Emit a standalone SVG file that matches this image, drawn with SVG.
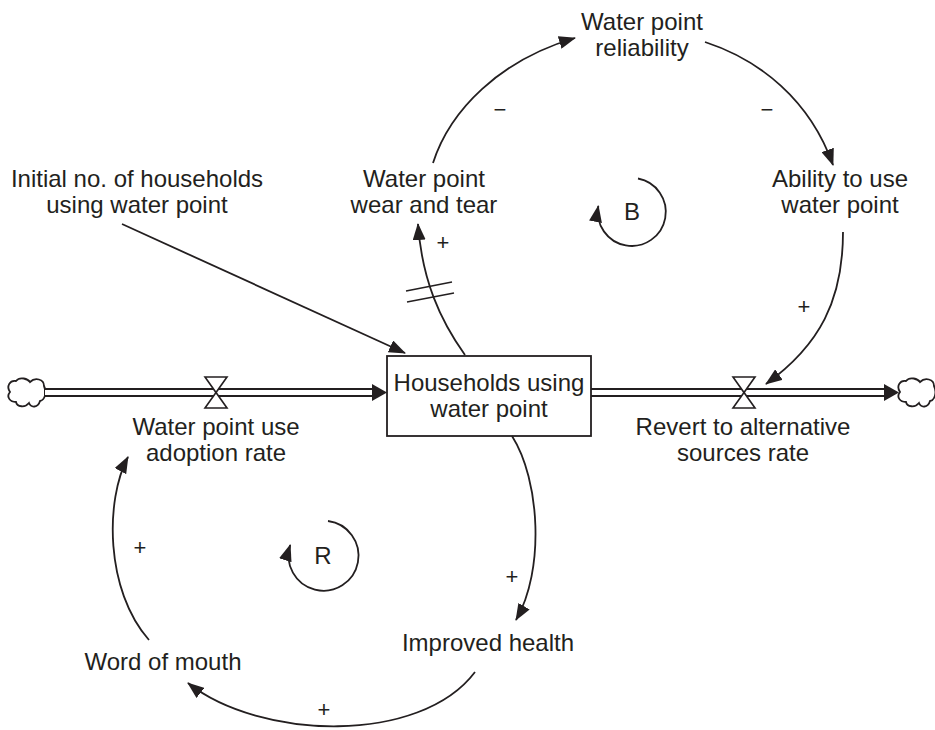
<svg xmlns="http://www.w3.org/2000/svg" width="935" height="730" viewBox="0 0 935 730">
  <style>
    .lbl { font-family: "Liberation Sans", Arial, sans-serif; font-size: 24px; fill: #231f20; text-anchor: middle; }
    .sign { font-family: "Liberation Sans", Arial, sans-serif; font-size: 22px; fill: #231f20; text-anchor: middle; }
    .link { fill: none; stroke: #231f20; stroke-width: 1.8; marker-end: url(#arrow); }
    .loop { fill: none; stroke: #231f20; stroke-width: 1.8; marker-end: url(#arrow); }
    .pipeOuter { stroke: #231f20; stroke-width: 9; fill: none; }
    .pipeInner { stroke: #ffffff; stroke-width: 5; fill: none; }
    .valve { fill: #ffffff; stroke: #231f20; stroke-width: 1.6; stroke-linejoin: miter; }
    .cloud { fill: #ffffff; stroke: #231f20; stroke-width: 1.8; }
    .stock { fill: #ffffff; stroke: #231f20; stroke-width: 1.8; }
    .head { fill: #231f20; }
    .delay { stroke: #231f20; stroke-width: 1.6; fill: none; }
  </style>
  <defs>
    <marker id="arrow" markerUnits="userSpaceOnUse" markerWidth="17" markerHeight="13" viewBox="0 0 17 13" refX="16" refY="6.5" orient="auto">
      <path d="M0,0 L17,6.5 L0,13 Z" fill="#231f20"/>
    </marker>
    <!-- source / sink cloud -->
    <path id="cloud" d="M10,392 C6,386 10,380 16,381 C20,376 28,379 30,382 C35,377 44,379 44,386 C47,392 45,400 40,401 C38,408 31,408 29,403 C25,408 17,407 16,402 C10,402 6,397 10,392 Z"/>
  </defs>

  <rect width="935" height="730" fill="#ffffff"/>

  <!-- flows: pipes, clouds and valves -->
  <g id="flow-adoption">
    <use href="#cloud" class="cloud"/>
    <line class="pipeOuter" x1="44" y1="392.5" x2="374" y2="392.5"/>
    <line class="pipeInner" x1="45" y1="392.5" x2="373" y2="392.5"/>
    <polygon class="head" points="372,384 387,392.5 372,401"/>
    <polygon class="valve" points="205,377 227,377 216,392.5"/>
    <polygon class="valve" points="216,392.5 205,408 227,408"/>
    <text class="lbl" x="216" y="435">Water point use</text>
    <text class="lbl" x="216" y="461">adoption rate</text>
  </g>

  <g id="flow-revert">
    <line class="pipeOuter" x1="591" y1="392.5" x2="886" y2="392.5"/>
    <line class="pipeInner" x1="590" y1="392.5" x2="885" y2="392.5"/>
    <polygon class="head" points="884,384 899,392.5 884,401"/>
    <use href="#cloud" class="cloud" transform="translate(890,0)"/>
    <polygon class="valve" points="733,377 755,377 744,392.5"/>
    <polygon class="valve" points="744,392.5 733,408 755,408"/>
    <text class="lbl" x="743" y="435">Revert to alternative</text>
    <text class="lbl" x="743" y="461">sources rate</text>
  </g>

  <!-- stock -->
  <g id="households">
    <rect class="stock" x="387" y="356" width="204" height="80"/>
    <text class="lbl" x="489" y="391">Households using</text>
    <text class="lbl" x="489" y="417">water point</text>
  </g>

  <!-- auxiliary variables -->
  <g id="initial-households">
    <text class="lbl" x="137" y="187">Initial no. of households</text>
    <text class="lbl" x="137" y="213">using water point</text>
  </g>
  <g id="wear-and-tear">
    <text class="lbl" x="424" y="187">Water point</text>
    <text class="lbl" x="424" y="213">wear and tear</text>
  </g>
  <g id="reliability">
    <text class="lbl" x="642" y="30">Water point</text>
    <text class="lbl" x="642" y="56">reliability</text>
  </g>
  <g id="ability">
    <text class="lbl" x="840" y="187">Ability to use</text>
    <text class="lbl" x="840" y="213">water point</text>
  </g>
  <g id="improved-health">
    <text class="lbl" x="488" y="651">Improved health</text>
  </g>
  <g id="word-of-mouth">
    <text class="lbl" x="163" y="670">Word of mouth</text>
  </g>

  <!-- causal links -->
  <g id="connectors">
    <path class="link" d="M122,224 L405,353"/>
    <path class="link" d="M465,355 C440,320 422,280 418,224"/>
    <line class="delay" x1="406" y1="291" x2="452" y2="282"/>
    <line class="delay" x1="407" y1="302" x2="454" y2="293"/>
    <path class="link" d="M433,163 C450,110 500,60 575,38"/>
    <path class="link" d="M705,42 C760,60 810,100 833,165"/>
    <path class="link" d="M843,232 C843,300 820,345 766,384"/>
    <path class="link" d="M512,436 C540,480 545,570 516,620"/>
    <path class="link" d="M475,672 C420,745 260,740 188,683"/>
    <path class="link" d="M149,640 C105,590 105,500 128,457"/>
  </g>

  <!-- link polarities -->
  <g id="polarities">
    <text class="sign" x="443" y="250">+</text>
    <text class="sign" x="500" y="117">−</text>
    <text class="sign" x="767" y="117">−</text>
    <text class="sign" x="804" y="314">+</text>
    <text class="sign" x="512" y="584">+</text>
    <text class="sign" x="324" y="717">+</text>
    <text class="sign" x="140" y="555">+</text>
  </g>

  <!-- loop identifiers -->
  <g id="loop-B">
    <path class="loop" d="M638,178.5 A34,34 0 1 1 598.3,206"/>
    <text class="lbl" x="632" y="220">B</text>
  </g>
  <g id="loop-R">
    <path class="loop" d="M328,521 A35,35 0 1 1 290.2,545"/>
    <text class="lbl" x="323" y="564">R</text>
  </g>
</svg>
